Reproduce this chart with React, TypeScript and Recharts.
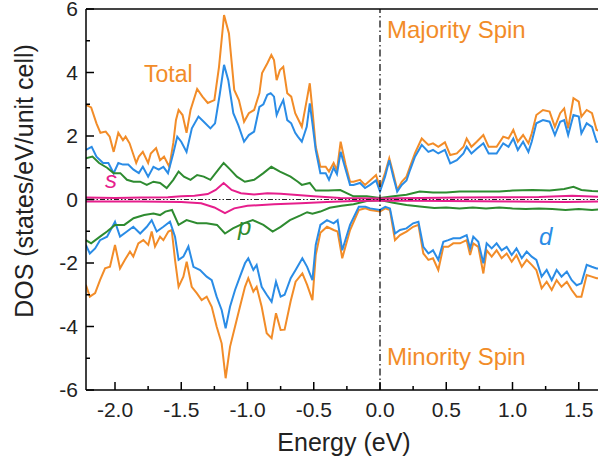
import React from 'react';
import { LineChart, Line, XAxis, YAxis, ReferenceLine } from 'recharts';

type Pt = [number, number];

// energy (eV), DOS (states/eV/unit cell)
const totalUp: Pt[] = [
  [-2.22, 2.98], [-2.18, 2.9], [-2.14, 2.4], [-2.11, 2.1], [-2.07, 2.14], [-2.04, 1.98], [-2.01, 1.5],
  [-1.975, 2.1], [-1.94, 1.87], [-1.92, 1.98], [-1.89, 1.77], [-1.84, 1.15], [-1.82, 1.35], [-1.79, 1.5],
  [-1.75, 1.15], [-1.73, 1.45], [-1.69, 1.62], [-1.66, 1.24], [-1.63, 1.35], [-1.59, 1.03], [-1.56, 1.78],
  [-1.54, 2.5], [-1.52, 2.82], [-1.49, 2.66], [-1.46, 2.1], [-1.43, 2.82], [-1.38, 3.48], [-1.34, 3.24],
  [-1.3, 3.04], [-1.25, 3.13], [-1.215, 4.18], [-1.177, 5.81], [-1.14, 5.23], [-1.1, 3.45], [-1.065, 3.13],
  [-1.026, 2.45], [-0.99, 2.72], [-0.95, 2.82], [-0.91, 3.35], [-0.89, 3.98], [-0.85, 4.29], [-0.82, 4.55],
  [-0.8, 4.39], [-0.78, 3.76], [-0.755, 4.08], [-0.73, 4.18], [-0.7, 3.35], [-0.67, 3.24], [-0.64, 2.72],
  [-0.59, 2.29], [-0.553, 3.13], [-0.53, 3.66], [-0.51, 2.82], [-0.485, 1.66], [-0.45, 1.03], [-0.41, 1.03],
  [-0.385, 0.88], [-0.35, 1.15], [-0.325, 0.92], [-0.297, 1.82], [-0.26, 1.1], [-0.226, 0.56], [-0.2, 0.56],
  [-0.151, 0.62], [-0.113, 0.46], [-0.075, 0.6], [-0.03, 0.77], [0, 0.36], [0.038, 0.83], [0.07, 1.3],
  [0.1, 0.83], [0.13, 0.3], [0.164, 0.56], [0.2, 0.72], [0.226, 1.03], [0.264, 1.46], [0.315, 1.92],
  [0.365, 1.72], [0.4, 1.77], [0.44, 1.66], [0.49, 1.8], [0.53, 1.4], [0.58, 1.45], [0.63, 1.66],
  [0.654, 1.92], [0.69, 1.66], [0.73, 1.82], [0.78, 2.03], [0.82, 1.66], [0.88, 1.66], [0.93, 1.98],
  [0.97, 1.92], [1.006, 2.19], [1.04, 1.82], [1.08, 2.03], [1.12, 1.77], [1.145, 2.08], [1.18, 2.66],
  [1.23, 2.82], [1.28, 2.77], [1.32, 2.29], [1.36, 2.72], [1.39, 2.87], [1.42, 2.24], [1.46, 3.19],
  [1.5, 3.08], [1.52, 2.61], [1.56, 2.82], [1.6, 2.72], [1.635, 2.19], [1.7, 2.1],
];

const dUp: Pt[] = [
  [-2.22, 1.56], [-2.176, 1.66], [-2.14, 1.35], [-2.09, 1.15], [-2.05, 1.15], [-2.01, 0.83], [-1.975, 1.15],
  [-1.94, 1.1], [-1.9, 1.1], [-1.86, 0.94], [-1.82, 0.83], [-1.79, 1.03], [-1.75, 0.72], [-1.71, 1.03],
  [-1.67, 0.94], [-1.635, 1.03], [-1.6, 0.83], [-1.56, 1.46], [-1.53, 1.98], [-1.5, 1.82], [-1.46, 1.5],
  [-1.42, 2.24], [-1.37, 2.61], [-1.33, 2.45], [-1.28, 2.24], [-1.245, 2.4], [-1.21, 3.3], [-1.177, 4.24],
  [-1.145, 3.76], [-1.107, 2.72], [-1.07, 2.35], [-1.026, 1.82], [-0.99, 2.03], [-0.95, 2.14], [-0.91, 2.92],
  [-0.88, 3.0], [-0.85, 3.3], [-0.825, 3.35], [-0.8, 3.24], [-0.78, 2.66], [-0.755, 2.92], [-0.73, 3.13],
  [-0.7, 2.5], [-0.67, 2.4], [-0.64, 2.1], [-0.62, 1.98], [-0.59, 1.82], [-0.553, 2.29], [-0.53, 3.03],
  [-0.51, 2.4], [-0.485, 1.56], [-0.45, 0.83], [-0.41, 0.83], [-0.385, 0.62], [-0.35, 1.0], [-0.325, 0.8],
  [-0.297, 1.5], [-0.26, 0.95], [-0.226, 0.46], [-0.2, 0.46], [-0.151, 0.52], [-0.113, 0.36], [-0.075, 0.46],
  [-0.03, 0.6], [0, 0.25], [0.038, 0.72], [0.07, 1.24], [0.1, 0.72], [0.13, 0.25], [0.164, 0.46],
  [0.2, 0.6], [0.226, 0.92], [0.264, 1.35], [0.315, 1.72], [0.365, 1.5], [0.4, 1.56], [0.44, 1.45],
  [0.49, 1.56], [0.53, 1.14], [0.58, 1.24], [0.63, 1.45], [0.654, 1.66], [0.69, 1.45], [0.73, 1.6],
  [0.78, 1.77], [0.82, 1.45], [0.88, 1.45], [0.93, 1.77], [0.97, 1.66], [1.006, 1.92], [1.04, 1.56],
  [1.08, 1.82], [1.12, 1.5], [1.145, 1.82], [1.18, 2.4], [1.23, 2.5], [1.28, 2.45], [1.32, 2.03],
  [1.36, 2.45], [1.39, 2.5], [1.42, 2.03], [1.46, 2.66], [1.5, 2.61], [1.52, 2.08], [1.56, 2.4],
  [1.6, 2.29], [1.635, 1.82], [1.7, 1.8],
];

const pUp: Pt[] = [
  [-2.22, 1.3], [-2.17, 1.35], [-2.12, 1.15], [-2.06, 1.0], [-2.01, 0.83], [-1.96, 0.83], [-1.91, 0.62],
  [-1.86, 0.56], [-1.81, 0.56], [-1.76, 0.46], [-1.71, 0.56], [-1.66, 0.52], [-1.61, 0.36], [-1.56, 0.62],
  [-1.52, 0.88], [-1.48, 0.72], [-1.43, 0.62], [-1.38, 0.77], [-1.33, 0.72], [-1.28, 0.62], [-1.22, 0.94],
  [-1.18, 1.15], [-1.13, 0.94], [-1.08, 0.72], [-1.02, 0.56], [-0.95, 0.62], [-0.88, 0.83], [-0.82, 1.03],
  [-0.755, 0.88], [-0.675, 0.72], [-0.62, 0.56], [-0.59, 0.46], [-0.53, 0.52], [-0.485, 0.28], [-0.39, 0.28],
  [-0.3, 0.3], [-0.2, 0.1], [-0.1, 0.1], [0, 0.05], [0.1, 0.1], [0.2, 0.15], [0.3, 0.25], [0.4, 0.22],
  [0.5, 0.22], [0.6, 0.25], [0.7, 0.25], [0.8, 0.25], [0.9, 0.25], [1.0, 0.28], [1.15, 0.3], [1.28, 0.28],
  [1.39, 0.33], [1.46, 0.4], [1.52, 0.3], [1.6, 0.27], [1.7, 0.25],
];

const sUp: Pt[] = [
  [-2.22, 0.06], [-2.0, 0.05], [-1.8, 0.06], [-1.6, 0.07], [-1.5, 0.1], [-1.4, 0.12], [-1.3, 0.17],
  [-1.24, 0.3], [-1.18, 0.52], [-1.12, 0.3], [-1.05, 0.2], [-0.95, 0.16], [-0.85, 0.2], [-0.75, 0.18],
  [-0.65, 0.15], [-0.5, 0.1], [-0.3, 0.05], [0, 0.03], [0.3, 0.05], [0.6, 0.06], [0.9, 0.07], [1.2, 0.08],
  [1.45, 0.12], [1.7, 0.08],
];

const totalDown: Pt[] = [
  [-2.22, -2.69], [-2.19, -3.06], [-2.15, -2.95], [-2.113, -2.54], [-2.075, -2.17], [-2.038, -2.12],
  [-2.0, -1.43], [-1.962, -2.17], [-1.925, -1.9], [-1.887, -1.64], [-1.862, -1.8], [-1.824, -1.38],
  [-1.786, -1.28], [-1.749, -1.43], [-1.723, -1.01], [-1.698, -1.48], [-1.66, -1.17], [-1.635, -1.28],
  [-1.597, -1.01], [-1.572, -0.96], [-1.547, -1.9], [-1.52, -2.75], [-1.484, -2.43], [-1.459, -1.96],
  [-1.421, -2.75], [-1.383, -2.95], [-1.346, -3.17], [-1.308, -3.06], [-1.27, -3.38], [-1.233, -4.0],
  [-1.195, -4.53], [-1.165, -5.63], [-1.132, -4.64], [-1.094, -4.0], [-1.057, -3.38], [-1.019, -2.75],
  [-0.994, -2.48], [-0.956, -2.9], [-0.931, -2.75], [-0.893, -3.38], [-0.855, -4.21], [-0.818, -4.37],
  [-0.785, -3.58], [-0.75, -4.11], [-0.72, -4.1], [-0.674, -3.2], [-0.637, -2.59], [-0.586, -2.33],
  [-0.55, -2.69], [-0.51, -3.17], [-0.485, -1.75], [-0.45, -1.05], [-0.4, -0.86], [-0.35, -0.96],
  [-0.32, -1.01], [-0.285, -1.85], [-0.226, -0.96], [-0.16, -0.33], [-0.11, -0.28], [-0.075, -0.33],
  [0, -0.38], [0.04, -0.28], [0.075, -0.33], [0.113, -1.28], [0.151, -1.12], [0.2, -1.01], [0.25, -0.86],
  [0.29, -0.8], [0.327, -1.7], [0.365, -1.9], [0.4, -1.85], [0.44, -2.22], [0.478, -1.49], [0.515, -1.49],
  [0.553, -1.38], [0.604, -1.38], [0.654, -1.28], [0.68, -1.75], [0.704, -1.38], [0.742, -1.49],
  [0.78, -2.33], [0.805, -1.6], [0.843, -1.8], [0.88, -1.6], [0.918, -1.85], [0.956, -1.7], [0.994, -1.96],
  [1.03, -1.75], [1.07, -2.12], [1.107, -1.9], [1.145, -2.06], [1.18, -2.22], [1.22, -2.8], [1.258, -2.59],
  [1.296, -2.85], [1.333, -2.54], [1.37, -2.75], [1.41, -2.59], [1.447, -2.85], [1.484, -3.06],
  [1.52, -3.06], [1.56, -2.38], [1.598, -2.43], [1.635, -2.48], [1.7, -2.5],
];

const dDown: Pt[] = [
  [-2.22, -1.43], [-2.19, -1.7], [-2.15, -1.54], [-2.113, -1.28], [-2.06, -1.17], [-2.0, -0.7],
  [-1.962, -1.17], [-1.91, -1.01], [-1.862, -0.86], [-1.81, -1.07], [-1.76, -0.86], [-1.723, -0.65],
  [-1.685, -1.01], [-1.635, -0.86], [-1.585, -0.7], [-1.547, -1.17], [-1.52, -1.9], [-1.484, -1.8],
  [-1.446, -1.48], [-1.408, -2.12], [-1.358, -2.22], [-1.308, -2.43], [-1.27, -2.54], [-1.233, -3.06],
  [-1.195, -3.48], [-1.165, -4.06], [-1.132, -3.38], [-1.094, -2.85], [-1.057, -2.43], [-1.019, -2.01],
  [-0.994, -1.85], [-0.956, -2.22], [-0.931, -2.06], [-0.893, -2.75], [-0.855, -3.0], [-0.818, -3.22],
  [-0.785, -2.59], [-0.75, -3.06], [-0.72, -3.0], [-0.674, -2.48], [-0.637, -2.22], [-0.586, -1.85],
  [-0.55, -2.12], [-0.51, -2.54], [-0.485, -1.43], [-0.45, -0.8], [-0.4, -0.65], [-0.35, -0.75],
  [-0.32, -0.65], [-0.285, -1.6], [-0.226, -0.8], [-0.16, -0.23], [-0.11, -0.23], [-0.075, -0.28],
  [0, -0.33], [0.04, -0.23], [0.075, -0.28], [0.113, -1.07], [0.151, -0.96], [0.2, -0.91], [0.25, -0.75],
  [0.29, -0.7], [0.327, -1.49], [0.365, -1.7], [0.4, -1.6], [0.44, -1.9], [0.478, -1.33], [0.515, -1.28],
  [0.553, -1.22], [0.604, -1.22], [0.654, -1.12], [0.68, -1.54], [0.704, -1.17], [0.742, -1.33],
  [0.78, -2.01], [0.805, -1.38], [0.843, -1.54], [0.88, -1.38], [0.918, -1.6], [0.956, -1.49],
  [0.994, -1.75], [1.03, -1.54], [1.07, -1.85], [1.107, -1.64], [1.145, -1.8], [1.18, -1.9], [1.22, -2.43],
  [1.258, -2.22], [1.296, -2.54], [1.333, -2.22], [1.37, -2.43], [1.41, -2.27], [1.447, -2.54],
  [1.484, -2.7], [1.52, -2.64], [1.56, -2.06], [1.598, -2.12], [1.635, -2.17], [1.7, -2.2],
];

const pDown: Pt[] = [
  [-2.22, -1.28], [-2.18, -1.38], [-2.113, -1.17], [-2.06, -1.01], [-2.0, -0.8], [-1.93, -0.8],
  [-1.86, -0.59], [-1.78, -0.49], [-1.71, -0.44], [-1.66, -0.49], [-1.62, -0.38], [-1.57, -0.33],
  [-1.52, -0.8], [-1.46, -0.65], [-1.38, -0.75], [-1.31, -0.75], [-1.23, -0.8], [-1.17, -1.07],
  [-1.11, -0.91], [-1.03, -0.75], [-0.96, -0.65], [-0.88, -0.8], [-0.81, -1.01], [-0.75, -0.86],
  [-0.68, -0.65], [-0.6, -0.5], [-0.55, -0.4], [-0.51, -0.45], [-0.45, -0.38], [-0.38, -0.26],
  [-0.29, -0.2], [-0.2, -0.15], [-0.1, -0.05], [0, -0.02], [0.1, -0.1], [0.2, -0.17], [0.3, -0.22],
  [0.41, -0.27], [0.5, -0.25], [0.6, -0.28], [0.7, -0.25], [0.8, -0.28], [0.9, -0.25], [1.0, -0.28],
  [1.1, -0.3], [1.2, -0.28], [1.3, -0.3], [1.4, -0.33], [1.5, -0.3], [1.6, -0.33], [1.7, -0.3],
];

const sDown: Pt[] = [
  [-2.22, -0.06], [-1.8, -0.06], [-1.5, -0.08], [-1.35, -0.12], [-1.25, -0.25], [-1.17, -0.43],
  [-1.1, -0.28], [-1.0, -0.2], [-0.8, -0.15], [-0.6, -0.12], [-0.4, -0.08], [-0.2, -0.05], [0, -0.03],
  [0.5, -0.05], [1.0, -0.06], [1.4, -0.08], [1.7, -0.06],
];

const xTicks = [-2, -1.75, -1.5, -1.25, -1, -0.75, -0.5, -0.25, 0, 0.25, 0.5, 0.75, 1, 1.25, 1.5, 1.75];
const yTicks = [-6, -5, -4, -3, -2, -1, 0, 1, 2, 3, 4, 5, 6];

const ORANGE = '#F28C28';
const BLUE = '#2A8CE6';
const GREEN = '#2E8B30';
const PINK = '#E61E8C';
const FONT = '"Liberation Sans", Arial, sans-serif';

const CHART_W = 620;
const CHART_H = 468;
const PLOT_LEFT = 86;
const PLOT_BOTTOM = 390;
// 132.5 px per eV, 0 eV at x=380
const X_MIN = (PLOT_LEFT - 380) / 132.5;
const X_MAX = (CHART_W - 380) / 132.5;

const rows = (pts: Pt[]) => pts.map(([e, v]) => ({ e, v }));

const XTick = (props: any) => {
  const { x, payload } = props;
  const v = payload.value as number;
  const major = Math.abs(v * 2 - Math.round(v * 2)) < 1e-6;
  return (
    <g>
      <line x1={x} x2={x} y1={PLOT_BOTTOM} y2={PLOT_BOTTOM - (major ? 8 : 4)} stroke="#000" strokeWidth={1.5} />
      {major && (
        <text x={x} y={417} textAnchor="middle" fontSize={21} fontFamily={FONT} fill="#222">
          {v.toFixed(1)}
        </text>
      )}
    </g>
  );
};

const YTick = (props: any) => {
  const { y, payload } = props;
  const v = payload.value as number;
  const major = v % 2 === 0;
  return (
    <g>
      <line x1={PLOT_LEFT} x2={PLOT_LEFT + (major ? 8 : 4)} y1={y} y2={y} stroke="#000" strokeWidth={1.5} />
      {major && (
        <text x={78} y={y + 7} textAnchor="end" fontSize={21} fontFamily={FONT} fill="#222">
          {String(v)}
        </text>
      )}
    </g>
  );
};

const series = [
  { name: 'totalUp', data: totalUp, color: ORANGE },
  { name: 'totalDown', data: totalDown, color: ORANGE },
  { name: 'dUp', data: dUp, color: BLUE },
  { name: 'dDown', data: dDown, color: BLUE },
  { name: 'pUp', data: pUp, color: GREEN },
  { name: 'pDown', data: pDown, color: GREEN },
  { name: 'sUp', data: sUp, color: PINK },
  { name: 'sDown', data: sDown, color: PINK },
];

export default function App() {
  return (
    <div style={{ position: 'absolute', left: 0, top: 0, width: 598, height: 468, overflow: 'hidden', background: '#fff' }}>
      <LineChart width={CHART_W} height={CHART_H} margin={{ top: 9, right: 0, bottom: 0, left: 0 }}>
        <XAxis
          type="number"
          dataKey="e"
          domain={[X_MIN, X_MAX]}
          allowDataOverflow
          ticks={xTicks}
          interval={0}
          tickSize={0}
          height={78}
          axisLine={{ stroke: '#000', strokeWidth: 1.5 }}
          tick={(p: any) => <XTick {...p} />}
        />
        <YAxis
          type="number"
          domain={[-6, 6]}
          allowDataOverflow
          ticks={yTicks}
          interval={0}
          tickSize={0}
          width={86}
          axisLine={{ stroke: '#000', strokeWidth: 1.5 }}
          tick={(p: any) => <YTick {...p} />}
        />
        <ReferenceLine y={6} stroke="#444" strokeWidth={2} />
        {series.map((s) => (
          <Line
            key={s.name}
            data={rows(s.data)}
            dataKey="v"
            type="linear"
            stroke={s.color}
            strokeWidth={2}
            dot={false}
            isAnimationActive={false}
          />
        ))}
        <ReferenceLine x={0} stroke="#000" strokeWidth={1.2} strokeDasharray="7 3 1.5 3" />
        <ReferenceLine y={0} stroke="#222" strokeWidth={1.2} strokeDasharray="5 2 1.5 2 1.5 2" />
      </LineChart>
      <svg width={598} height={468} style={{ position: 'absolute', left: 0, top: 0, pointerEvents: 'none' }}>
        <g fontFamily={FONT}>
          <text transform="translate(33,181) rotate(-90)" textAnchor="middle" fontSize={25} fill="#222">
            DOS (states/eV/unit cell)
          </text>
          <text x={344} y={451} textAnchor="middle" fontSize={25} fill="#222">
            Energy (eV)
          </text>
          <text x={144} y={82} fontSize={23} fill={ORANGE}>Total</text>
          <text x={387} y={38} fontSize={24} fill={ORANGE}>Majority Spin</text>
          <text x={387} y={365} fontSize={24} fill={ORANGE}>Minority Spin</text>
          <text x={105} y={188} fontSize={24} fontStyle="italic" fill={PINK}>s</text>
          <text x={238} y={235} fontSize={24} fontStyle="italic" fill={GREEN}>p</text>
          <text x={539} y={245} fontSize={24} fontStyle="italic" fill={BLUE}>d</text>
        </g>
      </svg>
    </div>
  );
}
